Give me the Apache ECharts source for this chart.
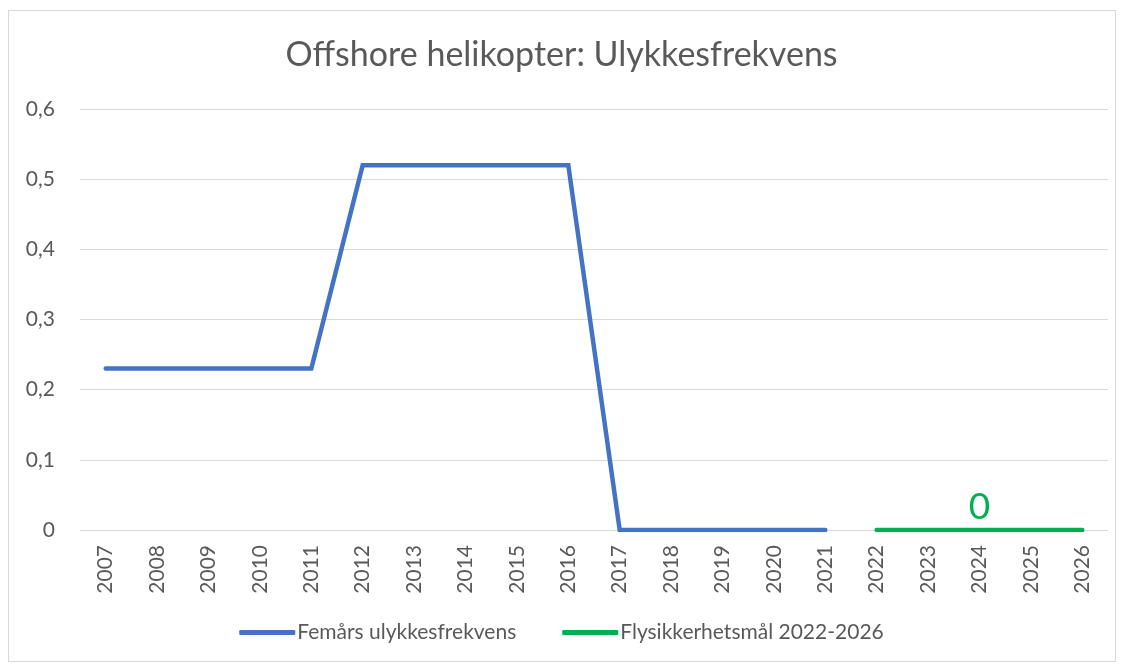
<!DOCTYPE html>
<html lang="no">
<head>
<meta charset="utf-8">
<title>Offshore helikopter: Ulykkesfrekvens</title>
<script src="https://cdn.jsdelivr.net/npm/echarts@6/dist/echarts.min.js"></script>
<style>
  html, body { margin: 0; padding: 0; background: #fff; }
  #frame { position: absolute; left: 8px; top: 10px; width: 1108px; height: 652px; border: 1px solid #d9d9d9; box-sizing: border-box; }
  #container { position: absolute; left: 0; top: 0; width: 1123px; height: 666px; }
</style>
</head>
<body>
<div id="frame"></div>
<div id="container"></div>
<script>
var years = ['2007','2008','2009','2010','2011','2012','2013','2014','2015','2016',
             '2017','2018','2019','2020','2021','2022','2023','2024','2025','2026'];
var femaars = [0.23, 0.23, 0.23, 0.23, 0.23, 0.52, 0.52, 0.52, 0.52, 0.52,
               0, 0, 0, 0, 0, null, null, null, null, null];
var maal = [null, null, null, null, null, null, null, null, null, null,
            null, null, null, null, null, 0, 0, 0, 0, 0];
var yTicks = { min: 0, max: 0.6, step: 0.1 };

var font = 'Lato, "Open Sans", sans-serif';
var grey = '#595959';

var maalData = maal.map(function (v, i) {
  if (years[i] === '2024') {
    return { value: v, label: { show: true, position: 'top', distance: 4, color: '#00B050', fontSize: 37, fontFamily: font } };
  }
  return v;
});

var myChart = echarts.init(document.getElementById('container'));
var option = {
  backgroundColor: 'transparent',
  animation: false,
  title: {
    text: 'Offshore helikopter: Ulykkesfrekvens',
    left: 'center',
    top: 33,
    textStyle: { color: grey, fontSize: 34, fontWeight: 'normal', fontFamily: font }
  },
  legend: {
    bottom: 18,
    left: 'center',
    itemWidth: 56,
    itemHeight: 5,
    itemGap: 46,
    icon: 'roundRect',
    textStyle: { color: grey, fontSize: 21, fontFamily: font, padding: [0, 0, 0, -3] },
    data: ['Femårs ulykkesfrekvens', 'Flysikkerhetsmål 2022-2026']
  },
  grid: { left: 80, right: 15, top: 109, bottom: 136, containLabel: false },
  xAxis: {
    type: 'category',
    data: years,
    boundaryGap: true,
    axisLine: { show: false },
    axisTick: { show: false },
    axisLabel: { rotate: 90, margin: 15, color: grey, fontSize: 21, fontFamily: font, interval: 0 }
  },
  yAxis: {
    type: 'value',
    min: yTicks.min,
    max: yTicks.max,
    interval: yTicks.step,
    axisLine: { show: false },
    axisTick: { show: false },
    splitLine: { lineStyle: { color: '#d9d9d9', width: 1 } },
    axisLabel: {
      margin: 25, color: grey, fontSize: 21, fontFamily: font,
      formatter: function (v) { return String(Math.round(v * 10) / 10).replace('.', ','); }
    }
  },
  series: [
    {
      name: 'Femårs ulykkesfrekvens',
      type: 'line',
      data: femaars,
      symbol: 'none',
      connectNulls: false,
      color: '#4472C4',
      lineStyle: { width: 4.5, color: '#4472C4', cap: 'round', join: 'miter' }
    },
    {
      name: 'Flysikkerhetsmål 2022-2026',
      type: 'line',
      data: maalData,
      symbol: 'circle',
      symbolSize: 0,
      showSymbol: true,
      color: '#00B050',
      lineStyle: { width: 4.5, color: '#00B050', cap: 'round' }
    }
  ]
};
myChart.setOption(option);
</script>
</body>
</html>
